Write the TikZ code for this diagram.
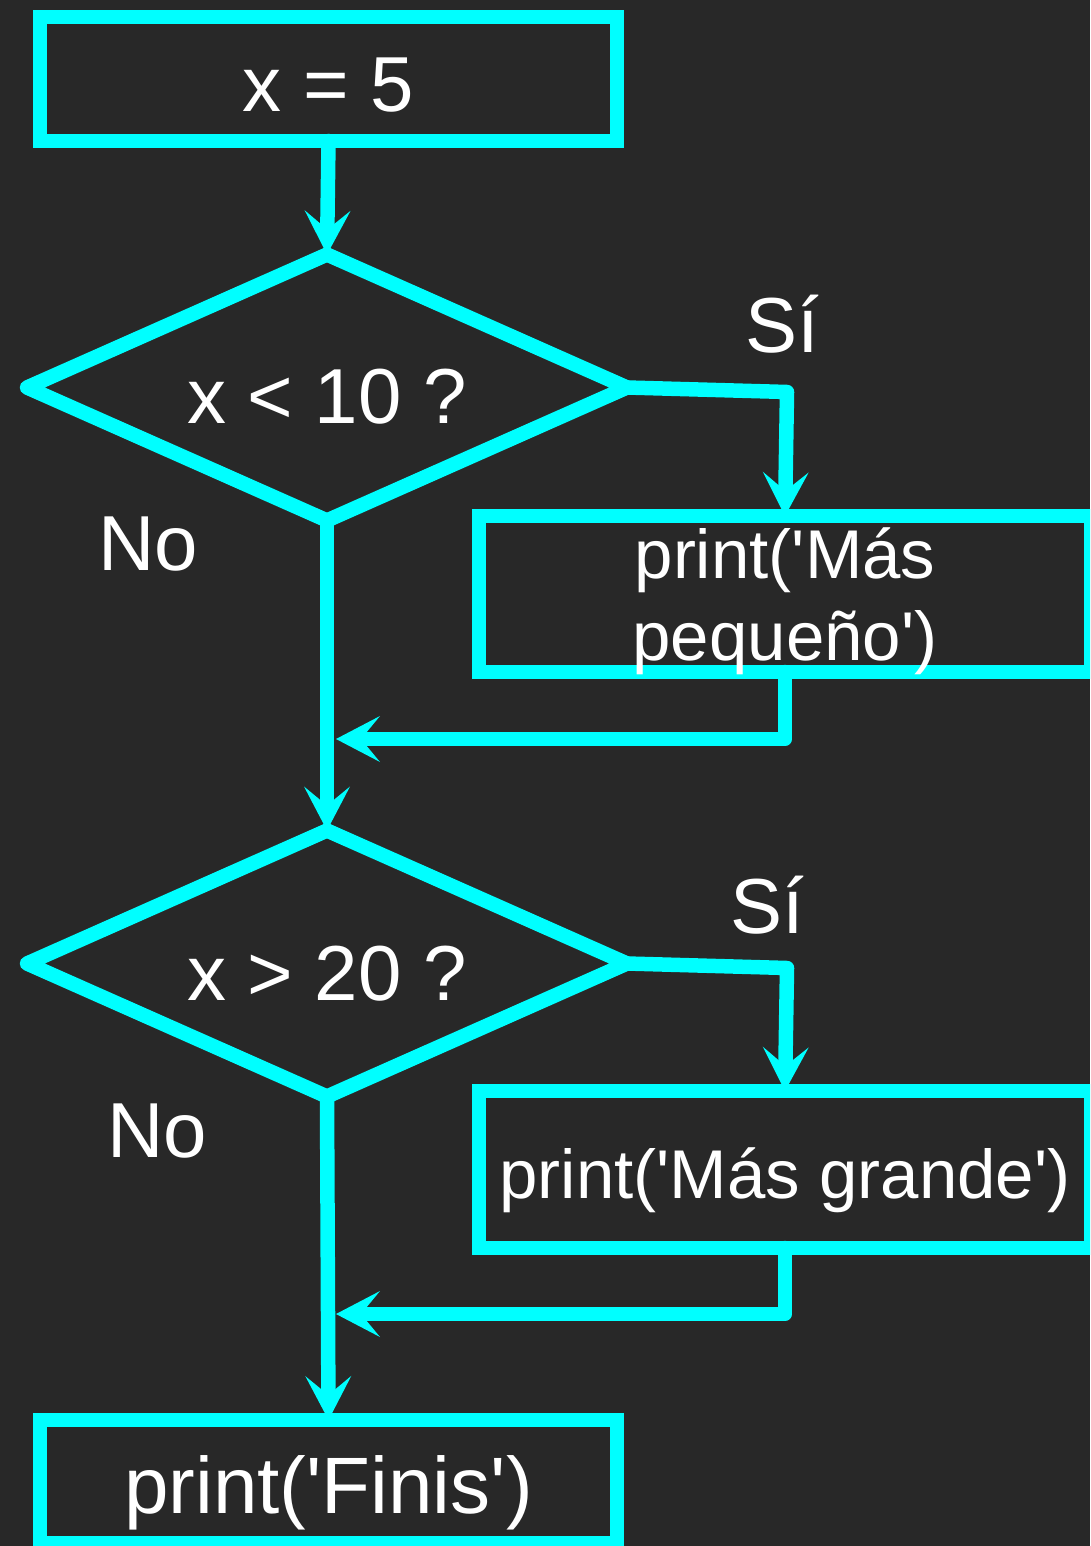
\documentclass[tikz,border=0pt]{standalone}
\usepackage{fontspec}
\setmainfont{Liberation Sans}
\usetikzlibrary{arrows.meta,shapes.geometric}
\definecolor{bg}{RGB}{40,40,40}
\definecolor{cy}{RGB}{0,255,255}
\newcommand{\q}{\textquotesingle}
\begin{document}
\begin{tikzpicture}[x=1pt,y=-1pt,
  lw/.style={line width=14.5pt},
  big/.style={font=\fontsize{78pt}{94pt}\selectfont},
  fin/.style={font=\fontsize{80pt}{96pt}\selectfont},
  small/.style={font=\fontsize{69pt}{82pt}\selectfont},
  box/.style={draw=cy,lw,line join=miter,rectangle,inner sep=0pt,outer sep=0pt,text=white,align=center},
  dia/.style={draw=cy,lw,line join=round,diamond,aspect=2.25,inner sep=0pt,outer sep=0pt,text=white,minimum width=600pt,minimum height=266pt,big},
  lbl/.style={text=white,big,anchor=base,inner sep=0pt},
  arr/.style={draw=cy,lw,line cap=round,line join=round,-{Stealth[length=44pt,width=46pt,inset=19pt,line width=0pt]}}]
\fill[bg] (0,0) rectangle (1090,1546);
\useasboundingbox (0,0) rectangle (1090,1546);
\begin{scope}
\clip (0,0) rectangle (1090,1546);
\node[box,big,minimum width=577pt,minimum height=124pt,text height=66pt,text depth=0pt] (b1) at (328.5,79) {x = 5};
\node[dia,text height=71pt,text depth=0pt] (d1) at (327,387.5) {x < 10 ?};
\node[box,small,minimum width=612pt,minimum height=156pt,text depth=-6pt] (b2) at (785,594) {print(\q Más\\pequeño\q)};
\node[dia,text height=73pt,text depth=0pt] (d2) at (327,963.5) {x > 20 ?};
\node[box,small,minimum width=612pt,minimum height=157pt,text height=57pt,text depth=0pt] (b3) at (785,1169.5) {print(\q Más grande\q)};
\node[box,fin,minimum width=577pt,minimum height=123pt,text height=64pt,text depth=0pt] (b4) at (328.5,1481.5) {print(\q Finis\q)};

\node[lbl] (si1) at (782,352) {Sí};
\node[lbl] (no1) at (148,570) {No};
\node[lbl] (si2) at (767,933) {Sí};
\node[lbl] (no2) at (157,1157) {No};

\coordinate (c1) at (787,392);
\coordinate (c2) at (787,968);
\coordinate (j1) at (336,739);
\coordinate (j2) at (336,1314);

\draw[arr] (b1.south) -- (d1.north);
\draw[arr] (d1.east) -- (c1) -- (b2.north);
\draw[arr] (b2.south) |- (j1);
\draw[arr] (d1.south) -- (d2.north);
\draw[arr] (d2.east) -- (c2) -- (b3.north);
\draw[arr] (b3.south) |- (j2);
\draw[arr] (d2.south) -- (b4.north);
\end{scope}
\end{tikzpicture}
\end{document}
